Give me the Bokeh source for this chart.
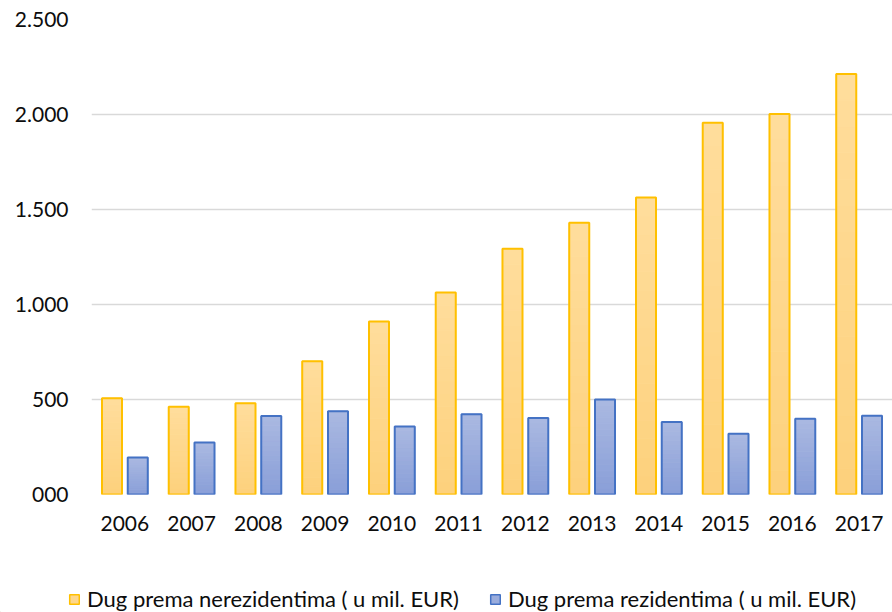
from bokeh.plotting import figure
from bokeh.models import ColumnDataSource, FactorRange, Range1d, FixedTicker, Legend, LegendItem
from bokeh.transform import dodge
from bokeh.embed import file_html
from bokeh.resources import INLINE

years = ["2006", "2007", "2008", "2009", "2010", "2011",
         "2012", "2013", "2014", "2015", "2016", "2017"]
nerezidenti = [507, 462, 480, 701, 910, 1063, 1293, 1430, 1563, 1957, 2002, 2213]
rezidenti = [195, 274, 413, 438, 358, 423, 403, 500, 381, 320, 399, 415]
y_ticks = [0, 500, 1000, 1500, 2000, 2500]
y_tick_labels = ["000", "500", "1.000", "1.500", "2.000", "2.500"]
series_names = ["Dug prema nerezidentima ( u mil. EUR)", "Dug prema rezidentima ( u mil. EUR)"]

FONT = "Lato"
YEL_LINE, BLUE_LINE = "#FFC000", "#4472C4"
YEL_TOP, YEL_BOT = (255, 221, 156), (253, 209, 124)
BLUE_TOP, BLUE_BOT = (170, 185, 225), (137, 158, 216)
N_STEPS = 16


def lerp(c0, c1, t):
    return "#%02x%02x%02x" % tuple(int(round(a + (b - a) * t)) for a, b in zip(c0, c1))


def gradient_source(values, c_bot, c_top):
    xs, bots, tops, cols = [], [], [], []
    for yr, v in zip(years, values):
        for k in range(N_STEPS):
            xs.append(yr)
            bots.append(v * k / N_STEPS)
            tops.append(v * (k + 1) / N_STEPS)
            cols.append(lerp(c_bot, c_top, (k + 0.5) / N_STEPS))
    return ColumnDataSource(dict(year=xs, bottom=bots, top=tops, color=cols))


src = ColumnDataSource(dict(year=years, nerez=nerezidenti, rez=rezidenti))

p = figure(width=892, height=560, x_range=FactorRange(*years), y_range=Range1d(0, 2500),
           output_backend="svg", toolbar_location=None,
           min_border_left=91, min_border_right=0, min_border_top=19, min_border_bottom=66)
p.outline_line_color = None
p.background_fill_color = "white"
p.border_fill_color = "white"

W = 0.3
OFF = 0.193
# gradient fills
p.vbar(x=dodge("year", -OFF, range=p.x_range), bottom="bottom", top="top", width=W,
       source=gradient_source(nerezidenti, YEL_BOT, YEL_TOP),
       fill_color="color", line_color="color", line_width=1)
p.vbar(x=dodge("year", OFF, range=p.x_range), bottom="bottom", top="top", width=W,
       source=gradient_source(rezidenti, BLUE_BOT, BLUE_TOP),
       fill_color="color", line_color="color", line_width=1)
# outlines
p.vbar(x=dodge("year", -OFF, range=p.x_range), top="nerez", width=W, source=src,
       fill_color=None, line_color=YEL_LINE, line_width=2)
p.vbar(x=dodge("year", OFF, range=p.x_range), top="rez", width=W, source=src,
       fill_color=None, line_color=BLUE_LINE, line_width=2)

# axes
p.yaxis.ticker = FixedTicker(ticks=y_ticks)
p.yaxis.major_label_overrides = {t: l for t, l in zip(y_ticks, y_tick_labels)}
for ax in (p.xaxis[0], p.yaxis[0]):
    ax.axis_line_color = None
    ax.major_tick_line_color = None
    ax.minor_tick_line_color = None
    ax.major_tick_out = 0
    ax.major_label_text_font = FONT
    ax.major_label_text_font_size = "21px"
    ax.major_label_text_color = "#0d0d0d"
p.yaxis.major_label_standoff = 23
p.xaxis.major_label_standoff = 21
p.xgrid.grid_line_color = None
p.ygrid.grid_line_color = "#D9D9D9"
p.ygrid.grid_line_width = 1.5
p.ygrid.level = "underlay"

# legend in a separate strip below (separate root, so its frame is not aligned)
lg = figure(width=892, height=52, x_range=Range1d(0, 1), y_range=Range1d(0, 1),
            output_backend="svg", toolbar_location=None, x_axis_type=None, y_axis_type=None,
            min_border_left=0, min_border_right=0, min_border_top=0, min_border_bottom=0)
lg.outline_line_color = None
lg.xgrid.grid_line_color = None
lg.ygrid.grid_line_color = None
dummy = dict(x=[-5.0], top=[0.0])
d1 = lg.vbar(x="x", top="top", width=0.1, source=ColumnDataSource(dummy),
             fill_color=lerp(YEL_BOT, YEL_TOP, 0.5), line_color=YEL_LINE, line_width=1.5)
d2 = lg.vbar(x="x", top="top", width=0.1, source=ColumnDataSource(dummy),
             fill_color=lerp(BLUE_BOT, BLUE_TOP, 0.5), line_color=BLUE_LINE, line_width=1.5)
legend = Legend(items=[LegendItem(label=series_names[0], renderers=[d1]),
                       LegendItem(label=series_names[1], renderers=[d2])],
                location=(68, 0), orientation="horizontal",
                label_text_font=FONT, label_text_font_size="22px", label_text_color="#0d0d0d",
                glyph_width=12, glyph_height=12, label_standoff=7, spacing=30,
                padding=0, margin=0, border_line_color=None, background_fill_alpha=0)
lg.add_layout(legend, "center")

open("out.html", "w").write(file_html([p, lg], INLINE))
